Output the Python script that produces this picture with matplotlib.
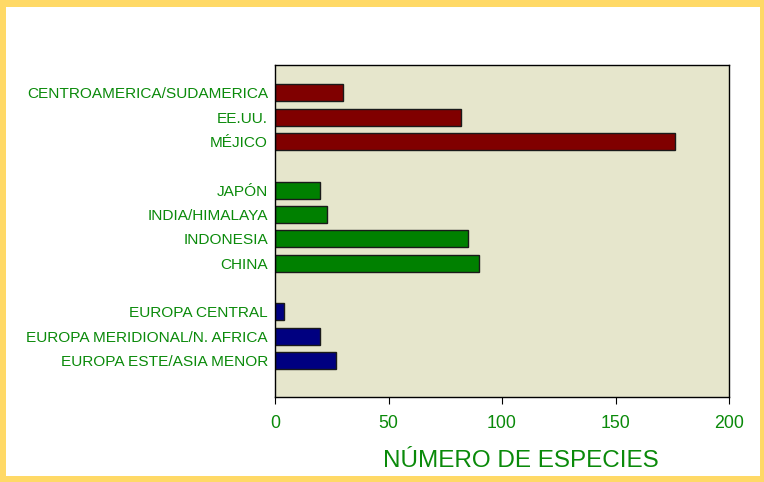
import matplotlib.pyplot as plt
from matplotlib.patches import Rectangle

# --- DATA ---
americas = ["CENTROAMERICA/SUDAMERICA", "EE.UU.", "MÉJICO"]
americas_vals = [30, 82, 176]
asia = ["JAPÓN", "INDIA/HIMALAYA", "INDONESIA", "CHINA"]
asia_vals = [20, 23, 85, 90]
europe = ["EUROPA CENTRAL", "EUROPA MERIDIONAL/N. AFRICA", "EUROPA ESTE/ASIA MENOR"]
europe_vals = [4, 20, 27]

groups = [
    (americas, americas_vals, "#800000"),
    (asia, asia_vals, "#008000"),
    (europe, europe_vals, "#000080"),
]

TEXT_GREEN = "#0a8a0a"
plt.rcParams['font.family'] = ['Liberation Sans', 'DejaVu Sans']

fig = plt.figure(figsize=(7.64, 4.82), dpi=100)
fig.patch.set_facecolor("#ffd966")
# white inner panel, the yellow facecolor stays visible as a frame
fig.patches.append(Rectangle((6 / 764, 6 / 482), 754 / 764, 469 / 482,
                             transform=fig.transFigure, facecolor="white",
                             edgecolor="none", zorder=-10))

ax = fig.add_axes([275 / 764, 85 / 482, 454 / 764, 332 / 482])
ax.set_zorder(5)
ax.set_facecolor("#e6e6cc")

# build positions top-down, leaving one empty slot between groups
labels, ypos = [], []
y = 11
for names, vals, color in groups:
    ys = []
    for n in names:
        ys.append(y)
        labels.append(n)
        ypos.append(y)
        y -= 1
    ax.barh(ys, vals, height=0.7, color=color, edgecolor="#1a1a1a", linewidth=1)
    y -= 1

ax.set_yticks(ypos)
ax.set_yticklabels(labels)
ax.set_ylim(-1.5, 12.15)
ax.set_xlim(0, 200)
ax.set_xticks([0, 50, 100, 150, 200])

ax.tick_params(axis='y', length=0, pad=5, labelsize=11.1, labelcolor=TEXT_GREEN)
ax.tick_params(axis='x', length=5, direction='out', pad=8, labelsize=12.8,
               labelcolor=TEXT_GREEN, color="black")
for s in ax.spines.values():
    s.set_color("black")
    s.set_linewidth(1)

fig.text(521 / 764, 1 - 461 / 482, "NÚMERO DE ESPECIES", ha="center", va="center",
         fontsize=17.5, color=TEXT_GREEN)

fig.savefig("out.png", dpi=100, facecolor=fig.get_facecolor())
